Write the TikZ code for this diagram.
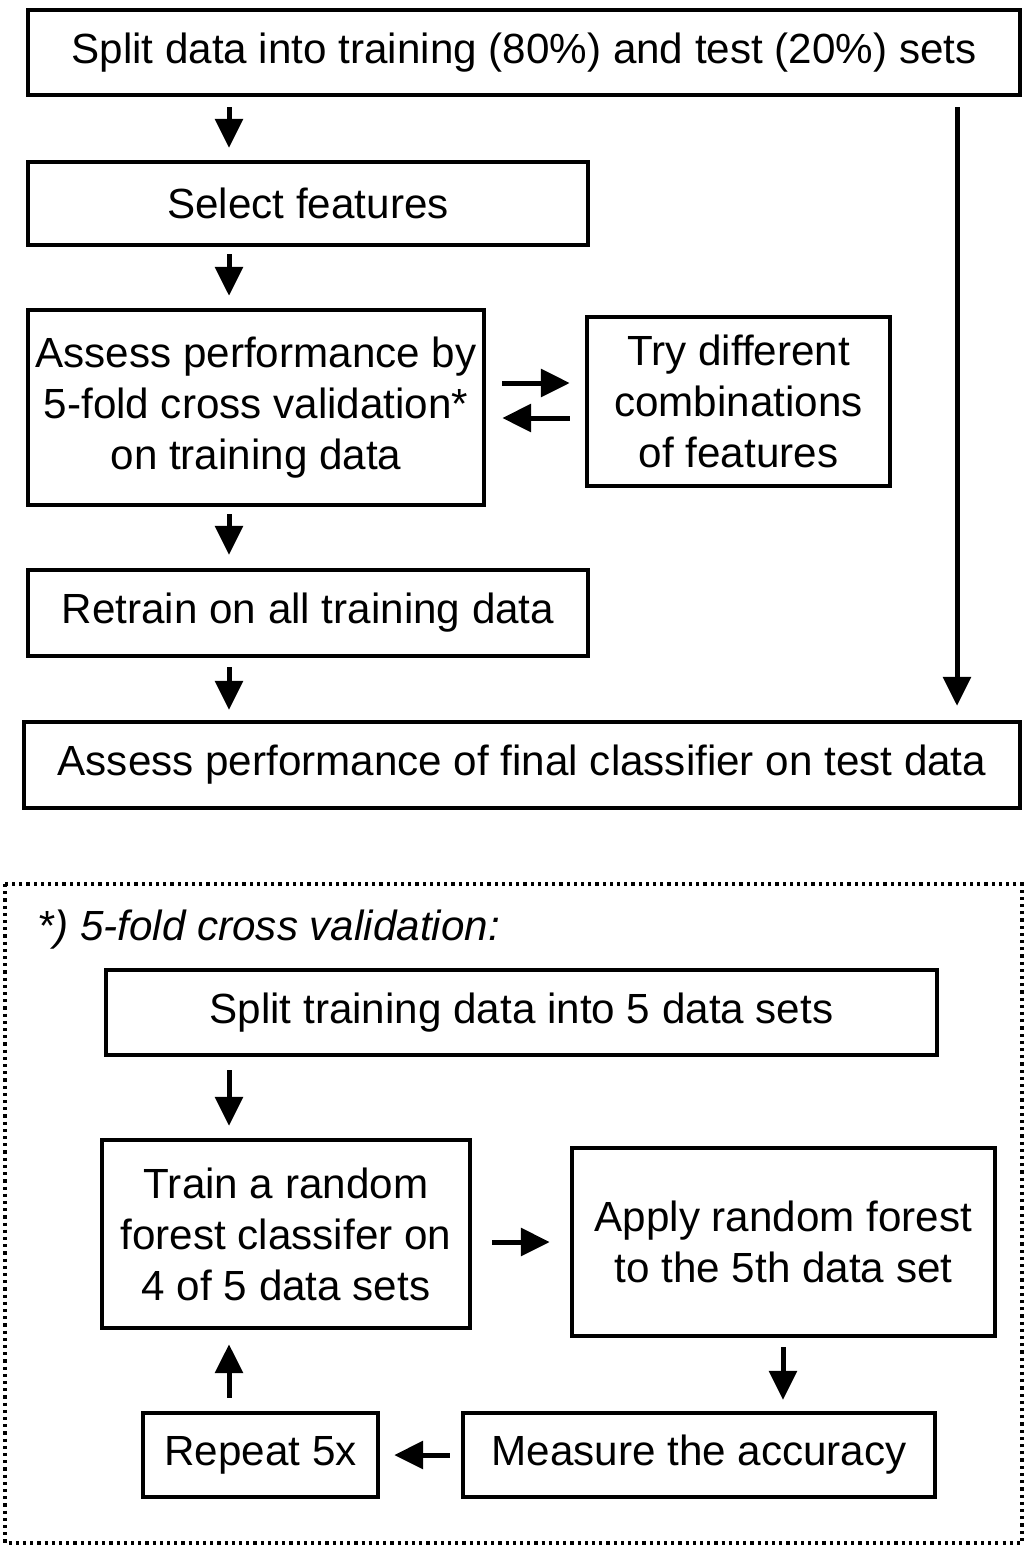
\documentclass[tikz,border=0pt]{standalone}
\usepackage{fontspec}
\setmainfont{Liberation Sans}
\usetikzlibrary{arrows.meta}

\begin{document}
\begin{tikzpicture}[x=0.025cm, y=-0.025cm,
  box/.style={draw, line width=0.11cm, align=center, inner sep=0pt,
    font=\fontsize{30}{36.3}\selectfont},
  arr/.style={line width=0.125cm, -{Triangle[length=0.72cm,width=0.68cm]}}]
\useasboundingbox (0,0) rectangle (1024,1546);

% columns and rows of the arrows
\coordinate (colL) at (229,0);
\coordinate (colR) at (957,0);
\coordinate (colM) at (783,0);
\coordinate (rowA) at (0,383);
\coordinate (rowB) at (0,418);
\coordinate (rowC) at (0,1242);
\coordinate (rowD) at (0,1455);

% main workflow
\node[box, minimum width=24.8cm, minimum height=2.125cm] (split) at (524,52.5)
  {Split data into training (80\%) and test (20\%) sets};
\node[box, minimum width=14cm, minimum height=2.075cm] (sel) at (308,203.5)
  {Select features};
\node[box, minimum width=11.4cm, minimum height=4.875cm] (cv) at (256,407.5)
  {Assess performance by\\5-fold cross validation*\\on training data};
\node[box, minimum width=7.575cm, minimum height=4.225cm] (comb) at (738.5,401.5)
  {Try different\\combinations\\of features};
\node[box, minimum width=14cm, minimum height=2.15cm] (retrain) at (308,613)
  {Retrain on all training data};
\node[box, minimum width=24.9cm, minimum height=2.15cm] (final) at (522,765)
  {Assess performance of final classifier on test data};

\draw[arr, shorten <=0.25cm, shorten >=0.3cm] (split.south -| colL) -- (sel.north -| colL);
\draw[arr, shorten <=0.175cm, shorten >=0.3cm] (sel.south -| colL) -- (cv.north -| colL);
\draw[arr, shorten <=0.175cm, shorten >=0.325cm] (cv.south -| colL) -- (retrain.north -| colL);
\draw[arr, shorten <=0.225cm, shorten >=0.25cm] (retrain.south -| colL) -- (final.north -| colL);
\draw[arr, shorten <=0.25cm, shorten >=0.35cm] (split.south -| colR) -- (final.north -| colR);
\draw[arr, shorten <=0.4cm, shorten >=0.375cm] (cv.east |- rowA) -- (comb.west |- rowA);
\draw[arr, shorten <=0.375cm, shorten >=0.4cm] (comb.west |- rowB) -- (cv.east |- rowB);

% cross validation
\draw[line width=0.08cm, dash pattern=on 0.08cm off 0.1cm] (5,884) rectangle (1022,1543);
\node[anchor=west, font=\fontsize{30}{36.3}\selectfont\itshape] (cvlabel) at (33,930)
  {*) 5-fold cross validation:};

\node[box, minimum width=20.775cm, minimum height=2.125cm] (split5) at (521.5,1012.5)
  {Split training data into 5 data sets};
\node[box, minimum width=9.2cm, minimum height=4.7cm] (train) at (286,1234)
  {Train a random\\forest classifer on\\4 of 5 data sets};
\node[box, minimum width=10.575cm, minimum height=4.7cm] (apply) at (783.5,1242)
  {Apply random forest\\to the 5th data set};
\node[box, minimum width=11.8cm, minimum height=2.1cm] (measure) at (699,1455)
  {Measure the accuracy};
\node[box, minimum width=5.875cm, minimum height=2.1cm] (repeat) at (260.5,1455)
  {Repeat 5x};

\draw[arr, shorten <=0.325cm, shorten >=0.3cm] (split5.south -| colL) -- (train.north -| colL);
\draw[arr, shorten <=0.5cm, shorten >=0.5cm] (train.east |- rowC) -- (apply.west |- rowC);
\draw[arr, shorten <=0.225cm, shorten >=0.275cm] (apply.south -| colM) -- (measure.north -| colM);
\draw[arr, shorten <=0.275cm, shorten >=0.35cm] (measure.west |- rowD) -- (repeat.east |- rowD);
\draw[arr, shorten <=0.325cm, shorten >=0.35cm] (repeat.north -| colL) -- (train.south -| colL);
\end{tikzpicture}
\end{document}
